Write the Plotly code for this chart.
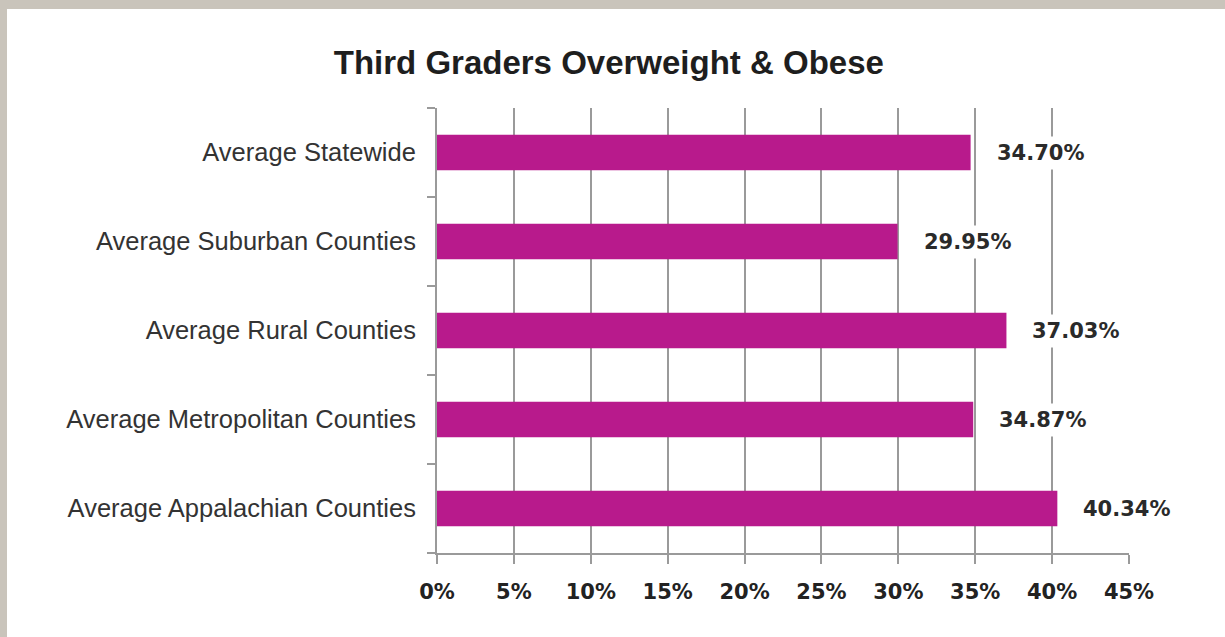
import plotly.graph_objects as go

categories = [
    "Average Statewide",
    "Average Suburban Counties",
    "Average Rural Counties",
    "Average Metropolitan Counties",
    "Average Appalachian Counties",
]
values = [34.70, 29.95, 37.03, 34.87, 40.34]
x_ticks = [0, 5, 10, 15, 20, 25, 30, 35, 40, 45]

BAR = "#b81a8c"
GRID = "#9a9a9a"
FRAME = "#c9c4bb"
BOLD_FONT = "DejaVu Sans, sans-serif"
TEXT_FONT = "Liberation Sans, Arial, sans-serif"

fig = go.Figure(go.Bar(
    x=values,
    y=categories,
    orientation="h",
    marker=dict(color=BAR, line=dict(width=0)),
    width=0.4,
    hoverinfo="x+y",
))

for cat, v in zip(categories, values):
    fig.add_annotation(
        x=v, y=cat, xref="x", yref="y",
        text=f"<b>{v:.2f}%</b>",
        showarrow=False,
        xanchor="left",
        xshift=21,
        bgcolor="white",
        borderpad=4,
        font=dict(family=BOLD_FONT, size=21, color="#2a2a2a"),
    )

# white panel on the beige frame
fig.add_shape(
    type="rect", xref="paper", yref="paper",
    x0=-0.6214, x1=1.3, y0=-0.4, y1=1.2225,
    fillcolor="white", line=dict(width=0), layer="below",
)

fig.update_layout(
    width=1225,
    height=637,
    paper_bgcolor=FRAME,
    plot_bgcolor="white",
    margin=dict(l=437, r=96, t=108, b=84),
    title=dict(
        text="<b>Third Graders Overweight &amp; Obese</b>",
        x=0.497, xref="container", xanchor="center",
        y=0.902, yanchor="middle",
        font=dict(family=TEXT_FONT, size=33, color="#1e1e1e"),
    ),
    showlegend=False,
    bargap=0.6,
    xaxis=dict(
        range=[0, 45],
        tickvals=x_ticks,
        ticktext=[f"<b>{t}%</b>" for t in x_ticks],
        showgrid=True, gridcolor=GRID, gridwidth=2,
        showline=True, linecolor=GRID, linewidth=2,
        ticks="outside", ticklen=9, tickwidth=2, tickcolor=GRID,
        ticklabelstandoff=10,
        tickfont=dict(family=BOLD_FONT, size=21, color="#222222"),
        zeroline=False,
        fixedrange=True,
    ),
    yaxis=dict(
        categoryorder="array",
        categoryarray=categories[::-1],
        showgrid=False,
        showline=True, linecolor=GRID, linewidth=2,
        ticks="outside", ticklen=8, tickwidth=2, tickcolor=GRID,
        tickson="boundaries",
        ticklabelstandoff=14,
        tickfont=dict(family=TEXT_FONT, size=25.5, color="#333333"),
        fixedrange=True,
    ),
)

fig.write_html(
    "out.html",
    config={"displayModeBar": False},
    post_script="document.body.style.margin='0';document.body.style.overflow='hidden';",
)
